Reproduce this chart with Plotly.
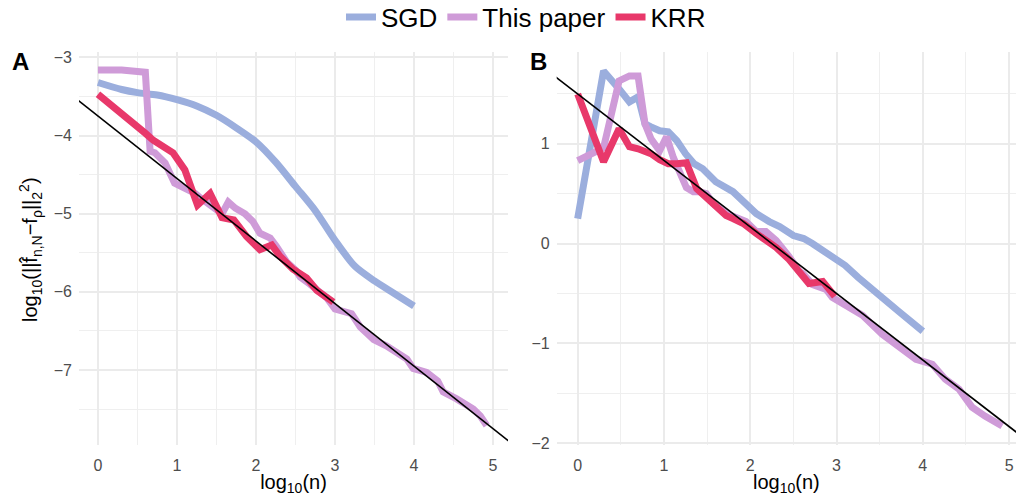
import plotly.graph_objects as go

# ---------------- data ----------------
# Panel A
sgd_a_x = [0, 0.3, 0.5, 0.75, 1.0, 1.25, 1.5, 1.75, 2.0, 2.25, 2.5, 2.75, 3.0, 3.25, 3.5, 3.75, 4.0]
sgd_a_y = [-3.32, -3.41, -3.45, -3.48, -3.54, -3.62, -3.74, -3.90, -4.08, -4.34, -4.65, -4.96, -5.34, -5.67, -5.86, -6.02, -6.18]

paper_a_x = [0, 0.3, 0.6, 0.66, 0.72, 0.85, 0.97, 1.1, 1.23, 1.3, 1.42, 1.5, 1.57, 1.65, 1.74, 1.86, 1.96,
             2.05, 2.18, 2.26, 2.39, 2.5, 2.56, 2.68, 2.81, 2.9, 3.0, 3.15, 3.21, 3.32, 3.49, 3.65, 3.74,
             3.91, 3.99, 4.16, 4.3, 4.37, 4.54, 4.66, 4.75, 4.84, 4.92]
paper_a_y = [-3.16, -3.16, -3.19, -4.20, -4.22, -4.35, -4.61, -4.67, -4.74, -4.80, -4.88, -4.96, -5.00, -4.85,
             -4.93, -5.00, -5.10, -5.25, -5.31, -5.42, -5.62, -5.72, -5.81, -5.90, -6.02, -6.08, -6.22, -6.25,
             -6.28, -6.45, -6.61, -6.69, -6.74, -6.86, -6.98, -7.03, -7.14, -7.28, -7.37, -7.44, -7.50, -7.59, -7.71]

krr_a_x = [0, 0.3, 0.48, 0.6, 0.7, 0.85, 0.95, 1.1, 1.2, 1.26, 1.42, 1.57, 1.72, 1.88, 2.05, 2.2, 2.3,
           2.47, 2.64, 2.77, 2.98]
krr_a_y = [-3.47, -3.71, -3.85, -3.97, -4.06, -4.17, -4.22, -4.44, -4.70, -4.89, -4.74, -5.05, -5.08, -5.29,
           -5.46, -5.40, -5.54, -5.71, -5.82, -5.98, -6.13]

fit_a = (-3.75, -0.80)   # intercept, slope

# Panel B
sgd_b_x = [0, 0.3, 0.48, 0.6, 0.7, 0.78, 0.85, 0.95, 1.05, 1.15, 1.25, 1.35, 1.45, 1.6, 1.8, 1.92, 2.07,
           2.22, 2.34, 2.5, 2.62, 2.72, 2.85, 3.0, 3.1, 3.25, 3.5, 3.72, 4.0]
sgd_b_y = [0.25, 1.73, 1.55, 1.42, 1.47, 1.20, 1.17, 1.13, 1.12, 1.03, 0.90, 0.80, 0.75, 0.62, 0.52, 0.43,
           0.30, 0.22, 0.17, 0.08, 0.05, 0.0, -0.07, -0.15, -0.22, -0.34, -0.51, -0.68, -0.88]

paper_b_x = [0, 0.3, 0.48, 0.6, 0.7, 0.78, 0.85, 0.95, 1.03, 1.11, 1.2, 1.26, 1.34, 1.41, 1.49, 1.57, 1.72,
             1.84, 1.95, 2.07, 2.18, 2.3, 2.38, 2.45, 2.57, 2.61, 2.72, 2.88, 2.95, 3.15, 3.3, 3.53, 3.72,
             3.92, 4.11, 4.26, 4.42, 4.57, 4.72, 4.92]
paper_b_y = [0.83, 0.96, 1.63, 1.68, 1.68, 1.20, 1.05, 0.93, 1.07, 0.86, 0.68, 0.56, 0.52, 0.52, 0.50, 0.40,
             0.30, 0.26, 0.22, 0.12, 0.12, 0.03, -0.05, -0.13, -0.28, -0.30, -0.41, -0.46, -0.54, -0.65,
             -0.72, -0.91, -1.03, -1.16, -1.21, -1.36, -1.46, -1.64, -1.73, -1.83]

krr_b_x = [0, 0.3, 0.48, 0.6, 0.7, 0.78, 0.85, 0.95, 1.05, 1.15, 1.26, 1.38, 1.49, 1.57, 1.72, 1.8, 1.92,
           2.07, 2.2, 2.3, 2.45, 2.57, 2.68, 2.84, 2.98]
krr_b_y = [1.50, 0.82, 1.15, 0.97, 0.95, 0.93, 0.90, 0.84, 0.80, 0.80, 0.81, 0.55, 0.46, 0.39, 0.28, 0.25,
           0.20, 0.10, 0.03, -0.04, -0.16, -0.28, -0.40, -0.38, -0.53]

fit_b = (1.50, -0.667)

series_names = ["SGD", "This paper", "KRR"]
colors = {"SGD": "#9BAEDD", "This paper": "#CF9BD8", "KRR": "#E8386A"}

# ---------------- figure ----------------
W, H = 1016, 496
FONT = "Liberation Sans, Arial, Helvetica, sans-serif"
xr_a = [-0.24, 5.19]
xr_b = [-0.243, 5.08]

fig = go.Figure()
panels = [
    ("x", "y", {"SGD": (sgd_a_x, sgd_a_y), "This paper": (paper_a_x, paper_a_y), "KRR": (krr_a_x, krr_a_y)}, fit_a, xr_a, True),
    ("x2", "y2", {"SGD": (sgd_b_x, sgd_b_y), "This paper": (paper_b_x, paper_b_y), "KRR": (krr_b_x, krr_b_y)}, fit_b, xr_b, False),
]
for xa, ya, data, fit, xr, show in panels:
    for name in series_names:
        xs, ys = data[name]
        shape = "spline" if (name == "SGD" and xa == "x") else "linear"
        fig.add_trace(go.Scatter(x=xs, y=ys, mode="lines", name=name, xaxis=xa, yaxis=ya,
                                 line=dict(color=colors[name], width=7, shape=shape, smoothing=0.8),
                                 showlegend=show, legendgroup=name))
    b0, b1 = fit
    fx = [xr[0] - 0.5, xr[1] + 0.5]
    fig.add_trace(go.Scatter(x=fx, y=[b0 + b1 * v for v in fx], mode="lines", xaxis=xa, yaxis=ya,
                             line=dict(color="black", width=1.6), showlegend=False, hoverinfo="skip"))

ydom = [1 - 445 / H, 1 - 52 / H]
grid = dict(showgrid=True, gridcolor="#EBEBEB", gridwidth=1.5, zeroline=False, showline=False,
            ticks="", tickfont=dict(size=16, color="#4D4D4D", family=FONT),
            minor=dict(dtick=0.5, showgrid=True, gridcolor="#EFEFEF", gridwidth=0.8))

xtitle = dict(text="log<sub>10</sub>(n)", font=dict(size=20, color="black", family=FONT), standoff=7)
ytitle_text = "log<sub>10</sub>(||f\u0302<sub>n,N</sub>\u2212f<sub>\u03c1</sub>||<sub>2</sub><sup>2</sup>)"
fig.update_layout(
    xaxis=dict(domain=[79 / W, 508 / W], range=xr_a, dtick=1, tick0=0, anchor="y",
               title=xtitle, ticklabelstandoff=9, automargin=False, **grid),
    yaxis=dict(domain=ydom, range=[-7.96, -2.93], dtick=1, tick0=0, anchor="x", ticklabelstandoff=6,
               automargin=False, **grid),
    xaxis2=dict(domain=[556.7 / W, 1.0], range=xr_b, dtick=1, tick0=0, anchor="y2",
                title=xtitle, ticklabelstandoff=9, automargin=False, **grid),
    yaxis2=dict(domain=ydom, range=[-2.02, 1.92], dtick=1, tick0=0, anchor="x2", ticklabelstandoff=6,
                automargin=False, **grid),
    width=W, height=H,
    margin=dict(l=0, r=0, t=0, b=0, autoexpand=False),
    paper_bgcolor="white", plot_bgcolor="white",
    font=dict(family=FONT, color="black"),
    legend=dict(orientation="h", x=526 / W, xanchor="center", y=1 - 17 / H, yanchor="middle",
                font=dict(size=26, family=FONT, color="black"), bgcolor="rgba(0,0,0,0)",
                itemwidth=30, tracegroupgap=0),
    annotations=[
        dict(text=ytitle_text, textangle=-90, x=30 / W, y=1 - 250 / H, xref="paper", yref="paper",
             xanchor="center", yanchor="middle", showarrow=False,
             font=dict(size=20, family=FONT, color="black")),
        dict(text="<b>A</b>", x=10 / W, y=1 - 61 / H, xref="paper", yref="paper", xanchor="left",
             yanchor="middle", showarrow=False, font=dict(size=24, family=FONT, color="black")),
        dict(text="<b>B</b>", x=528 / W, y=1 - 61 / H, xref="paper", yref="paper", xanchor="left",
             yanchor="middle", showarrow=False, font=dict(size=24, family=FONT, color="black")),
    ],
)

fig.write_html("out.html")
